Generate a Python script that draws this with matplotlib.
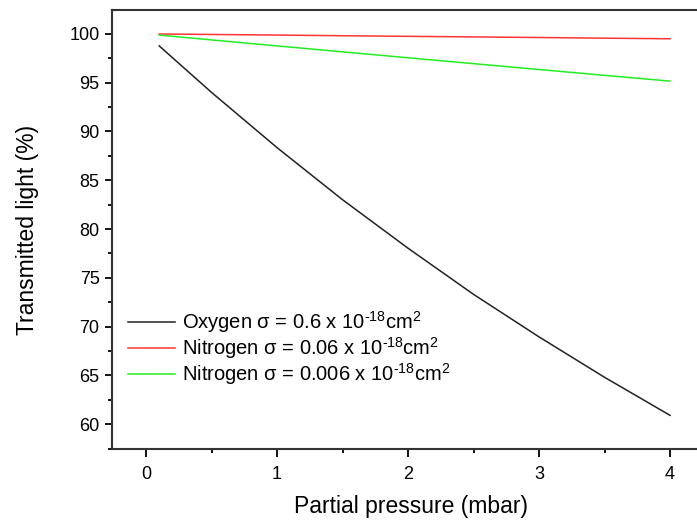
import matplotlib
matplotlib.use("Agg")
import matplotlib.pyplot as plt
from matplotlib.ticker import MultipleLocator

plt.rcParams['font.family'] = ['Liberation Sans', 'DejaVu Sans']
plt.rcParams['mathtext.fontset'] = 'custom'
plt.rcParams['mathtext.rm'] = 'Liberation Sans'
plt.rcParams['mathtext.it'] = 'Liberation Sans'
plt.rcParams['mathtext.sf'] = 'Liberation Sans'

# Partial pressure (mbar)
pressure = [0.1, 0.5, 1.0, 1.5, 2.0, 2.5, 3.0, 3.5, 4.0]
# Transmitted light (%)
oxygen = [98.77, 94.0, 88.34, 83.0, 78.03, 73.3, 68.94, 64.8, 60.9]
nitrogen_red = [99.99, 99.94, 99.88, 99.81, 99.75, 99.69, 99.63, 99.56, 99.5]
nitrogen_green = [99.88, 99.38, 98.77, 98.16, 97.55, 96.95, 96.35, 95.75, 95.16]

labels = [
    "Oxygen \u03c3 = 0.6 x 10$^{\\mathsf{\u201018}}$cm$^{\\mathsf{2}}$",
    "Nitrogen \u03c3 = 0.06 x 10$^{\\mathsf{\u201018}}$cm$^{\\mathsf{2}}$",
    "Nitrogen \u03c3 = 0.006 x 10$^{\\mathsf{\u201018}}$cm$^{\\mathsf{2}}$",
]

fig = plt.figure(figsize=(6.97, 5.23), dpi=100)
ax = fig.add_axes([0.1607, 0.1415, 0.857, 0.8394])

ax.plot(pressure, oxygen, color='#222222', lw=1.1, label=labels[0])
ax.plot(pressure, nitrogen_red, color='#ff3333', lw=1.1, label=labels[1])
ax.plot(pressure, nitrogen_green, color='#22ee22', lw=1.1, label=labels[2])

ax.set_xlim(-0.26, 4.3)
ax.set_ylim(57.45, 102.45)
ax.xaxis.set_major_locator(MultipleLocator(1))
ax.xaxis.set_minor_locator(MultipleLocator(0.5))
ax.yaxis.set_major_locator(MultipleLocator(5))
ax.yaxis.set_minor_locator(MultipleLocator(2.5))
ax.tick_params(which='major', direction='out', length=5, width=1.3, labelsize=13, pad=4)
ax.tick_params(which='minor', direction='out', length=3, width=1.3)
ax.tick_params(axis='x', which='major', length=6, pad=6)
ax.tick_params(top=False, right=False)
for s in ax.spines.values():
    s.set_linewidth(1.5)
    s.set_color('#333333')

ax.set_xlabel("Partial pressure (mbar)", fontsize=16.5, labelpad=9)
ax.set_ylabel("Transmitted light (%)", fontsize=16.5, labelpad=22)

ax.legend(loc='lower left', bbox_to_anchor=(-0.003, 0.10), frameon=False,
          fontsize=14.5, handlelength=2.33, handletextpad=0.33, labelspacing=0.0)

fig.savefig("out.png", dpi=100)
